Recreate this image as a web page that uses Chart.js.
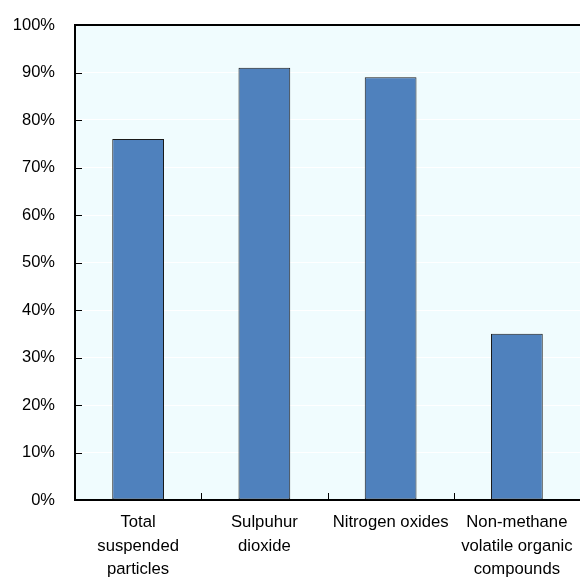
<!DOCTYPE html>
<html>
<head>
<meta charset="utf-8">
<script src="https://cdn.jsdelivr.net/npm/chart.js@4/dist/chart.umd.min.js"></script>
<style>
    body { margin: 0; background: #ffffff; }
    #wrap { width: 580px; height: 577px; }
</style>
</head>
<body>
<div id="wrap"><canvas id="chart"></canvas></div>
<script>
// Chart data
const categories = [
    ['Total', 'suspended', 'particles'],
    ['Sulpuhur', 'dioxide'],
    ['Nitrogen oxides'],
    ['Non-methane', 'volatile organic', 'compounds']
];
const shares = [76, 91, 89, 35];
const yTicks = [0, 10, 20, 30, 40, 50, 60, 70, 80, 90, 100];

// Background, inner ticks and top frame
const framePlugin = {
    id: 'frame',
    beforeDraw(chart) {
        const { ctx, chartArea: a } = chart;
        ctx.save();
        ctx.fillStyle = '#f0fcfe';
        ctx.fillRect(a.left, a.top, a.right - a.left, a.bottom - a.top);
        ctx.restore();
    },
    afterDraw(chart) {
        const { ctx, chartArea: a, scales } = chart;
        ctx.save();
        ctx.strokeStyle = '#000000';
        ctx.lineWidth = 1;
        // y ticks pointing inward
        yTicks.forEach(v => {
            const y = Math.round(scales.y.getPixelForValue(v)) + 0.5;
            ctx.beginPath();
            ctx.moveTo(a.left, y);
            ctx.lineTo(a.left + 7, y);
            ctx.stroke();
        });
        // x ticks between categories
        for (let i = 1; i < categories.length; i++) {
            const x = Math.round((scales.x.getPixelForValue(i - 1) + scales.x.getPixelForValue(i)) / 2) + 0.5;
            ctx.beginPath();
            ctx.moveTo(x, a.bottom);
            ctx.lineTo(x, a.bottom - 7);
            ctx.stroke();
        }
        // top border
        ctx.lineWidth = 2;
        ctx.beginPath();
        ctx.moveTo(a.left - 1, a.top);
        ctx.lineTo(a.right, a.top);
        ctx.stroke();
        ctx.restore();
    }
};

new Chart(document.getElementById('chart'), {
    type: 'bar',
    data: {
        labels: categories,
        datasets: [{
            data: shares,
            backgroundColor: '#4f81bd',
            borderColor: '#1a1a1a',
            borderWidth: 1,
            borderSkipped: false,
            barPercentage: 0.41,
            categoryPercentage: 1
        }]
    },
    options: {
        responsive: true,
        maintainAspectRatio: false,
        animation: false,
        layout: { padding: { left: 0, top: 25, right: 0, bottom: 0 } },
        plugins: {
            legend: { display: false },
            tooltip: { enabled: false }
        },
        scales: {
            x: {
                afterFit(scale) {
                    scale.height = 77;
                    scale.paddingLeft = 0;
                    scale.paddingRight = 0;
                },
                grid: { display: false },
                border: { color: '#000000', width: 2 },
                ticks: {
                    color: '#000000',
                    padding: 3,
                    maxRotation: 0,
                    autoSkip: false,
                    font: { family: 'Liberation Sans, Arial, sans-serif', size: 16.7, lineHeight: 1.4 }
                }
            },
            y: {
                min: 0,
                max: 100,
                afterFit(scale) {
                    scale.width = 75;
                    scale.paddingTop = 0;
                    scale.paddingBottom = 0;
                },
                afterBuildTicks(scale) {
                    scale.ticks = yTicks.map(v => ({ value: v }));
                },
                grid: { color: '#ffffff', lineWidth: 1, drawTicks: false },
                border: { color: '#000000', width: 2 },
                ticks: {
                    color: '#000000',
                    padding: 20,
                    callback: v => v + '%',
                    font: { family: 'Liberation Sans, Arial, sans-serif', size: 16.5 }
                }
            }
        }
    },
    plugins: [framePlugin]
});
</script>
</body>
</html>
